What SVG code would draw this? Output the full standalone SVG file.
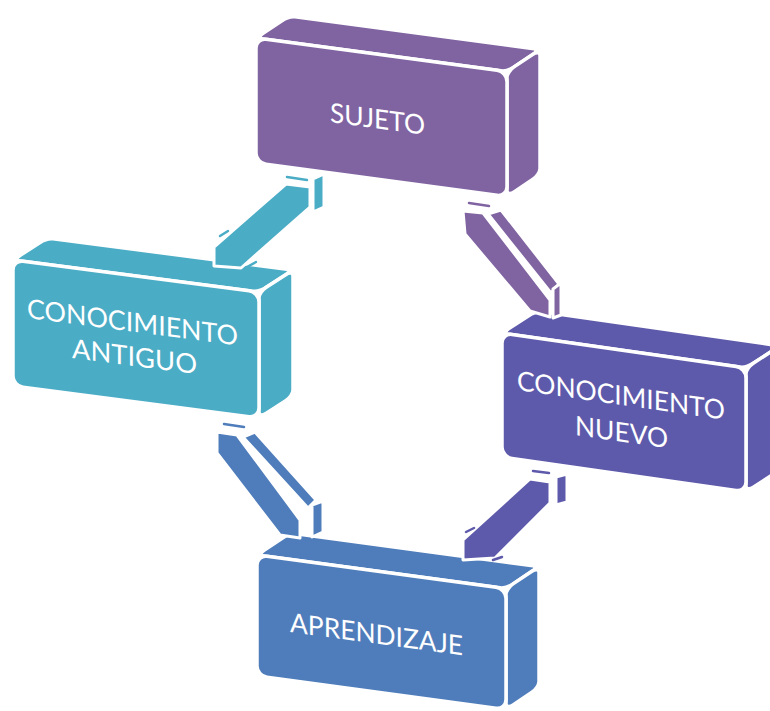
<svg xmlns="http://www.w3.org/2000/svg" width="770" height="711" viewBox="0 0 770 711">
<style>
.face{stroke:#fff;stroke-width:3.5;vector-effect:non-scaling-stroke;stroke-linejoin:round}
.arr{stroke:#fff;stroke-width:3;stroke-linejoin:round}
.sl{stroke-width:2.5;stroke-linecap:round;fill:none}
.lbl{font-family:Lato,"Open Sans","Liberation Sans",sans-serif;font-size:27px;fill:#fff}
.c1{fill:#8064A2}.c2{fill:#5E5AAB}.c3{fill:#4F7DBB}.c4{fill:#4BACC6}
</style>
<rect width="770" height="711" fill="#fff"/>
<g id="node-sujeto">
<rect class="face c1" x="0" y="0" width="251" height="28" rx="6" transform="matrix(1,0.134,1.179,-0.786,256,38)"/>
<rect class="face c1" x="0" y="0" width="28" height="125" rx="6" transform="matrix(1.179,-0.786,0,1,507,71.6)"/>
<rect class="face c1" x="256" y="3.7" width="251" height="125" rx="10" transform="matrix(1,0.134,0,1,0,0)"/>
<text class="lbl" x="330" y="77.8" textLength="95" lengthAdjust="spacingAndGlyphs" transform="matrix(1,0.134,0,1,0,0)">SUJETO</text>
</g>
<g id="node-antiguo">
<rect class="face c4" x="0" y="0" width="246" height="28" rx="6" transform="matrix(1,0.13,1.214,-0.786,13,260)"/>
<rect class="face c4" x="0" y="0" width="28" height="126" rx="6" transform="matrix(1.214,-0.786,0,1,259,292)"/>
<rect class="face c4" x="13" y="258.3" width="246" height="126" rx="10" transform="matrix(1,0.13,0,1,0,0)"/>
<text class="lbl" transform="matrix(1,0.13,0,1,0,0)"><tspan x="27" y="314.5" textLength="211" lengthAdjust="spacingAndGlyphs">CONOCIMIENTO</tspan><tspan x="72" y="348.6" textLength="125" lengthAdjust="spacingAndGlyphs">ANTIGUO</tspan></text>
</g>
<g id="node-nuevo">
<rect class="face c2" x="0" y="0" width="244" height="28" rx="6" transform="matrix(1,0.143,1.214,-0.786,502,333)"/>
<rect class="face c2" x="0" y="0" width="28" height="124" rx="6" transform="matrix(1.214,-0.786,0,1,746,367.9)"/>
<rect class="face c2" x="502" y="261.2" width="244" height="124" rx="10" transform="matrix(1,0.143,0,1,0,0)"/>
<text class="lbl" transform="matrix(1,0.143,0,1,0,0)"><tspan x="517" y="316.1" textLength="208" lengthAdjust="spacingAndGlyphs">CONOCIMIENTO</tspan><tspan x="575" y="352.8" textLength="93" lengthAdjust="spacingAndGlyphs">NUEVO</tspan></text>
</g>
<g id="node-aprendizaje">
<rect class="face c3" x="0" y="0" width="249" height="28" rx="6" transform="matrix(1,0.135,1.179,-0.786,257,555)"/>
<rect class="face c3" x="0" y="0" width="28" height="121" rx="6" transform="matrix(1.179,-0.786,0,1,506,588.6)"/>
<rect class="face c3" x="257" y="520.3" width="249" height="121" rx="10" transform="matrix(1,0.135,0,1,0,0)"/>
<text class="lbl" x="290" y="592.85" textLength="173" lengthAdjust="spacingAndGlyphs" transform="matrix(1,0.135,0,1,0,0)">APRENDIZAJE</text>
</g>
<g id="connectors">
<g id="arrow-sujeto-antiguo">
<polygon class="arr c4" points="286,184 310,187 310,207 241,268 214,266 214,247"/>
<polygon class="arr c4" points="313,179 324,174 324,207 313,212"/>
<line class="sl" stroke="#4BACC6" x1="287" y1="177" x2="307" y2="180"/>
<line class="sl" stroke="#4BACC6" x1="220" y1="236" x2="228" y2="231"/>
<line class="sl" stroke="#4BACC6" x1="247" y1="267" x2="256" y2="262"/>
</g>
<g id="arrow-sujeto-nuevo">
<polygon class="arr c1" points="463,211 483,213 550,300 550,317 530,311 465,234"/>
<polygon class="arr c1" points="488,214 501,210 559,284 551,293"/>
<polygon class="arr c1" points="553,289 561,283 561,315 553,318"/>
<line class="sl" stroke="#8064A2" x1="469" y1="203" x2="489" y2="206"/>
</g>
<g id="arrow-antiguo-aprendizaje">
<polygon class="arr c3" points="217,432 237,435 300,520 300,538 280,535 217,453"/>
<polygon class="arr c3" points="243,437 255,432 316,500 308,508"/>
<polygon class="arr c3" points="312,505 323,501 323,532 312,537"/>
<line class="sl" stroke="#4F7DBB" x1="224" y1="424" x2="244" y2="427"/>
</g>
<g id="arrow-nuevo-aprendizaje">
<polygon class="arr c2" points="530,479 550,482 550,503 495,558 463,560 463,540"/>
<polygon class="arr c2" points="556,477 567,474 567,502 556,505"/>
<line class="sl" stroke="#5E5AAB" x1="533" y1="471" x2="549" y2="473"/>
<line class="sl" stroke="#5E5AAB" x1="466" y1="532" x2="474" y2="528"/>
<line class="sl" stroke="#5E5AAB" x1="493" y1="560" x2="502" y2="557"/>
</g>
</g>
</svg>
